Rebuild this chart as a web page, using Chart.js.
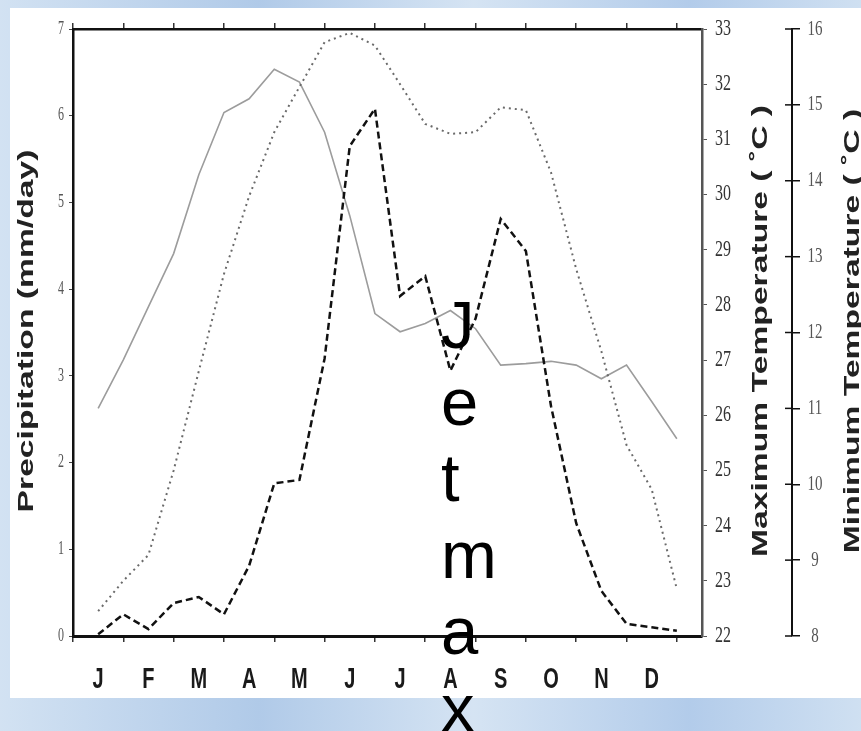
<!DOCTYPE html>
<html>
<head>
<meta charset="utf-8">
<script src="https://cdn.jsdelivr.net/npm/chart.js@4/dist/chart.umd.min.js"></script>
<style>
    html, body { margin: 0; padding: 0; }
    body {
        width: 861px; height: 731px; overflow: hidden; position: relative;
        background: #c3d8ee;
        background-image: linear-gradient(90deg, rgba(255,255,255,0.25), rgba(120,160,215,0.25) 30%, rgba(255,255,255,0.3) 55%, rgba(140,175,225,0.3) 80%, rgba(255,255,255,0.2));
    }
    #painel { position: absolute; left: 10px; top: 8px; width: 851px; height: 690px; background: #fff; }
    #grafico { position: absolute; left: 0; top: 0; }
</style>
</head>
<body>
<div id="painel"></div>
<canvas id="grafico" width="861" height="731"></canvas>
<script>
// semi-monthly samples, in months from 1 January
const halfMonths = [0.5, 1, 1.5, 2, 2.5, 3, 3.5, 4, 4.5, 5, 5.5, 6,
                    6.5, 7, 7.5, 8, 8.5, 9, 9.5, 10, 10.5, 11, 11.5, 12];
const precipitation = [0.02, 0.25, 0.08, 0.38, 0.45, 0.25, 0.81, 1.76, 1.8, 3.2, 5.65, 6.08,
                       3.92, 4.15, 3.06, 3.66, 4.81, 4.44, 2.65, 1.3, 0.52, 0.14, 0.1, 0.06];
const maxTemperature = [22.45, 23.0, 23.47, 25.0, 26.8, 28.56, 29.97, 31.13, 31.95, 32.76, 32.93, 32.7,
                        32.0, 31.28, 31.1, 31.13, 31.58, 31.53, 30.4, 28.65, 27.16, 25.46, 24.66, 22.85];
const minTemperature = [11.0, 11.64, 12.34, 13.04, 14.08, 14.9, 15.08, 15.47, 15.3, 14.64, 13.54, 12.25,
                        12.01, 12.12, 12.29, 12.05, 11.57, 11.59, 11.62, 11.57, 11.39, 11.57, 11.09, 10.6];

const months = ['J', 'F', 'M', 'A', 'M', 'J', 'J', 'A', 'S', 'O', 'N', 'D'];
const monthCenters = [0.5, 1.5, 2.5, 3.5, 4.5, 5.5, 6.5, 7.5, 8.5, 9.5, 10.5, 11.5];
const monthEdges = [0, 1, 2, 3, 4, 5, 6, 7, 8, 9, 10, 11, 12];
const precipTicks = [0, 1, 2, 3, 4, 5, 6, 7];
const maxTicks = [22, 23, 24, 25, 26, 27, 28, 29, 30, 31, 32, 33];
const minTicks = [8, 9, 10, 11, 12, 13, 14, 15, 16];
const overlayText = 'Jetmax';

const SANS = "'Liberation Sans', Arial, sans-serif";
const SERIF = "'Liberation Serif', 'Times New Roman', serif";

function texto(ctx, s, x, y, font, color, align, base, sx, sy, rot) {
    ctx.save();
    ctx.translate(x, y);
    if (rot) ctx.rotate(-Math.PI / 2);
    ctx.scale(sx, sy);
    ctx.font = font;
    ctx.fillStyle = color;
    ctx.textAlign = align;
    ctx.textBaseline = base;
    ctx.fillText(s, 0, 0);
    ctx.restore();
}

const etiquetas = {
    id: 'etiquetas',
    afterDraw(chart) {
        const { ctx, scales } = chart;
        const xs = scales.x;

        months.forEach((m, i) => {
            texto(ctx, m, xs.getPixelForValue(monthCenters[i]), 688, 'bold 20px ' + SANS, '#1a1a1a', 'center', 'alphabetic', 1, 1.45);
        });
        precipTicks.forEach(v => {
            texto(ctx, String(v), 61, scales.y.getPixelForValue(v), '12px ' + SERIF, '#555', 'center', 'middle', 1, 1.5);
        });
        maxTicks.forEach(v => {
            texto(ctx, String(v), 723, scales.y2.getPixelForValue(v), '16px ' + SERIF, '#333', 'center', 'middle', 1, 1.4);
        });
        // inner half of the crossing ticks on the far axis
        ctx.save();
        ctx.strokeStyle = '#111';
        ctx.lineWidth = 1.5;
        minTicks.forEach(v => {
            const y = scales.y3.getPixelForValue(v);
            ctx.beginPath();
            ctx.moveTo(scales.y3.left - 7, y);
            ctx.lineTo(scales.y3.left, y);
            ctx.stroke();
            texto(ctx, String(v), 815, y, '15px ' + SERIF, '#555', 'center', 'middle', 1, 1.4);
        });
        ctx.restore();

        texto(ctx, 'Precipitation (mm/day)', 33, 331, 'bold 22px ' + SANS, '#222', 'center', 'alphabetic', 1.53, 1, true);
        texto(ctx, 'Maximum Temperature ( ˚C )', 767, 331, 'bold 22px ' + SANS, '#222', 'center', 'alphabetic', 1.53, 1, true);
        texto(ctx, 'Minimum Temperature ( ˚C )', 859, 331, 'bold 22px ' + SANS, '#222', 'center', 'alphabetic', 1.53, 1, true);

        overlayText.split('').forEach((c, i) => {
            texto(ctx, c, 441, 348 + i * 76.6, '67px ' + SANS, '#000', 'left', 'alphabetic', 1, 1);
        });
    }
};

const edgeTicks = s => { s.ticks = monthEdges.map(v => ({ value: v })); };

const ctx = document.getElementById('grafico').getContext('2d');
new Chart(ctx, {
    type: 'line',
    data: {
        labels: halfMonths,
        datasets: [{
            label: 'Precipitation',
            data: precipitation,
            yAxisID: 'y',
            borderColor: '#111',
            borderWidth: 2.5,
            borderDash: [7, 4],
            pointRadius: 0,
            tension: 0
        }, {
            label: 'Maximum Temperature',
            data: maxTemperature,
            yAxisID: 'y2',
            borderColor: '#6a6a6a',
            borderWidth: 2,
            borderDash: [2, 4],
            pointRadius: 0,
            tension: 0
        }, {
            label: 'Minimum Temperature',
            data: minTemperature,
            yAxisID: 'y3',
            borderColor: '#9c9c9c',
            borderWidth: 1.6,
            pointRadius: 0,
            tension: 0
        }]
    },
    options: {
        responsive: false,
        animation: false,
        layout: { padding: 0 },
        plugins: { legend: { display: false }, tooltip: { enabled: false } },
        scales: {
            x: {
                type: 'linear', position: 'bottom', min: 0, max: 12.5,
                afterBuildTicks: edgeTicks,
                afterFit: s => { s.height = 95; },
                ticks: { display: false },
                grid: { drawOnChartArea: false, color: '#333', lineWidth: 1.5, tickLength: 6 },
                border: { color: '#111', width: 3 }
            },
            xTop: {
                type: 'linear', position: 'top', min: 0, max: 12.5,
                afterBuildTicks: edgeTicks,
                afterFit: s => { s.height = 29; },
                ticks: { display: false },
                grid: { drawOnChartArea: false, color: '#333', lineWidth: 1.5, tickLength: 6 },
                border: { color: '#111', width: 2.5 }
            },
            y: {
                position: 'left', min: 0, max: 7,
                afterFit: s => { s.width = 73; },
                ticks: { display: false, stepSize: 1 },
                grid: { drawOnChartArea: false, color: '#444', tickLength: 4 },
                border: { color: '#111', width: 2.5 }
            },
            y2: {
                position: 'right', min: 22, max: 33,
                afterFit: s => { s.width = 90; },
                ticks: { display: false, stepSize: 1 },
                grid: { drawOnChartArea: false, color: '#555', tickLength: 5 },
                border: { color: '#555', width: 2.5 }
            },
            y3: {
                position: 'right', min: 8, max: 16,
                afterFit: s => { s.width = 69; },
                ticks: { display: false, stepSize: 1 },
                grid: { drawOnChartArea: false, color: '#111', lineWidth: 1.5, tickLength: 8 },
                border: { color: '#111', width: 2 }
            }
        }
    },
    plugins: [etiquetas]
});
</script>
</body>
</html>
